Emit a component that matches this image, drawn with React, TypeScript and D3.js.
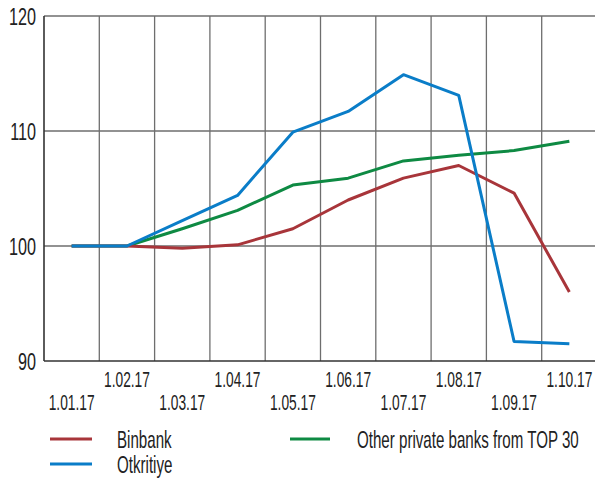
import { useEffect, useRef } from "react";
import * as d3 from "d3";

// months on the x axis
const months = [
  "1.01.17", "1.02.17", "1.03.17", "1.04.17", "1.05.17",
  "1.06.17", "1.07.17", "1.08.17", "1.09.17", "1.10.17",
];

// index values, 1.01.17 = 100
const binbank = [100, 100, 99.8, 100.1, 101.5, 104.0, 105.9, 107.0, 104.6, 96.0];
const otkritiye = [100, 100, 102.2, 104.4, 109.9, 111.7, 114.9, 113.1, 91.7, 91.5];
const otherTop30 = [100, 100, 101.5, 103.1, 105.3, 105.9, 107.4, 107.9, 108.3, 109.1];

const yTicks = [90, 100, 110, 120];

const seriesNames = ["Binbank", "Otkritiye", "Other private banks from TOP 30"];
const seriesColors = ["#a8353a", "#0a7dc8", "#0e8a43"];

// condensed look: Liberation Sans squeezed horizontally
const FONT = "'Liberation Sans', Arial, sans-serif";

export default function App() {
  const svgRef = useRef<SVGSVGElement>(null);

  useEffect(() => {
    const width = 595;
    const height = 480;
    const left = 44;
    const top = 16;
    const bottom = 361;

    const svg = d3.select(svgRef.current);
    svg.selectAll("*").remove();
    svg.attr("width", width).attr("height", height);

    const x = d3.scaleBand().domain(months).range([left, 597]).padding(0);
    const y = d3.scaleLinear().domain([90, 120]).range([bottom, top]);
    const cx = (m: string) => (x(m) as number) + x.bandwidth() / 2;

    // horizontal grid
    svg.append("g")
      .selectAll("line")
      .data(yTicks.filter((t) => t !== 90))
      .join("line")
      .attr("x1", left)
      .attr("x2", width)
      .attr("y1", (d) => y(d))
      .attr("y2", (d) => y(d))
      .attr("stroke", "#6e6e6e")
      .attr("stroke-width", 1.3);

    // vertical grid at month boundaries
    svg.append("g")
      .selectAll("line")
      .data(months.slice(1))
      .join("line")
      .attr("x1", (d) => x(d) as number)
      .attr("x2", (d) => x(d) as number)
      .attr("y1", top)
      .attr("y2", bottom)
      .attr("stroke", "#6e6e6e")
      .attr("stroke-width", 1.3);

    // axes
    svg.append("line")
      .attr("x1", left).attr("x2", left)
      .attr("y1", top).attr("y2", bottom)
      .attr("stroke", "#333").attr("stroke-width", 1.6);
    svg.append("line")
      .attr("x1", left).attr("x2", width)
      .attr("y1", bottom).attr("y2", bottom)
      .attr("stroke", "#333").attr("stroke-width", 1.6);

    // y tick labels
    svg.append("g")
      .selectAll("text")
      .data(yTicks)
      .join("text")
      .attr("transform", (d) => `translate(36,${y(d) + 9}) scale(0.69,1)`)
      .attr("text-anchor", "end")
      .style("font-family", FONT)
      .style("font-size", "23.5px")
      .style("fill", "#222")
      .text((d) => d);

    // x tick labels, two staggered rows
    svg.append("g")
      .selectAll("text")
      .data(months)
      .join("text")
      .attr("transform", (d, i) => `translate(${cx(d)},${i % 2 === 0 ? 410 : 387}) scale(0.64,1)`)
      .attr("text-anchor", "middle")
      .style("font-family", FONT)
      .style("font-size", "21.5px")
      .style("fill", "#222")
      .text((d) => d);

    // lines
    const allSeries = [binbank, otkritiye, otherTop30];
    const line = d3.line<number>()
      .x((_, i) => cx(months[i]))
      .y((d) => y(d));

    // green first, then red, blue on top
    [2, 0, 1].forEach((k) => {
      svg.append("path")
        .attr("d", line(allSeries[k]))
        .attr("fill", "none")
        .attr("stroke", seriesColors[k])
        .attr("stroke-width", 3)
        .attr("stroke-linejoin", "round");
    });

    // legend
    const legendPos = [
      { lx: 50, ly: 439 },
      { lx: 50, ly: 464 },
      { lx: 290, ly: 439 },
    ];
    const legend = svg.append("g")
      .selectAll("g")
      .data(seriesNames)
      .join("g")
      .attr("transform", (_, i) => `translate(${legendPos[i].lx},${legendPos[i].ly})`);
    legend.append("line")
      .attr("x1", 0).attr("x2", (_, i) => (i === 2 ? 40 : 42))
      .attr("y1", 0).attr("y2", 0)
      .attr("stroke", (_, i) => seriesColors[i])
      .attr("stroke-width", 3);
    legend.append("text")
      .attr("transform", "translate(67,9) scale(0.63,1)")
      .style("font-family", FONT)
      .style("font-size", "24px")
      .style("fill", "#222")
      .text((d) => d);
  }, []);

  return (
    <div style={{ position: "absolute", left: 0, top: 0 }}>
      <svg ref={svgRef} style={{ display: "block" }}></svg>
    </div>
  );
}
